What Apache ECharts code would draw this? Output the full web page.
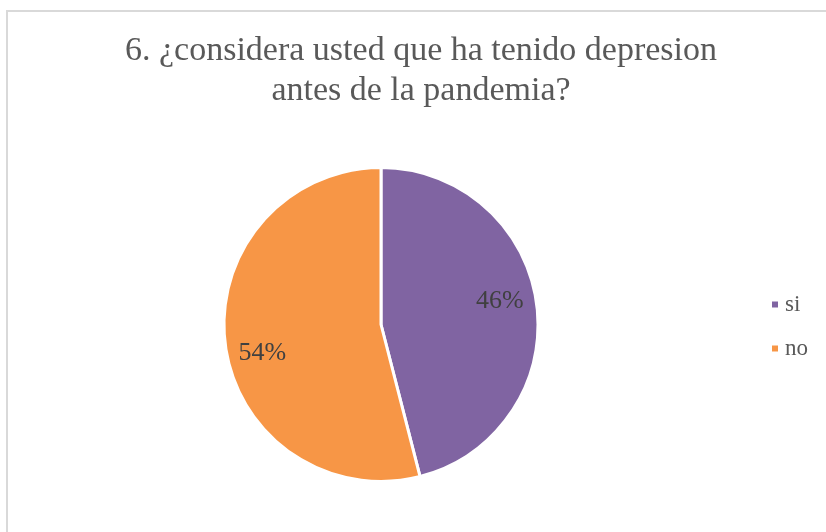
<!DOCTYPE html>
<html>
<head>
<meta charset="utf-8">
<script src="https://cdn.jsdelivr.net/npm/echarts@6/dist/echarts.min.js"></script>
<style>html,body{margin:0;padding:0;background:#fff}#c{width:826px;height:532px}</style>
</head>
<body>
<div id="c"></div>
<script>
const titleText = '6. ¿considera usted que ha tenido depresion\nantes de la pandemia?';
const categories = ['si', 'no'];
const values = [46, 54];
const colors = ['#8064a2', '#f79646'];

const data = categories.map((c, i) => ({ name: c, value: values[i], itemStyle: { color: colors[i] } }));
const font = 'Liberation Serif';

const chart = echarts.init(document.getElementById('c'), null, { renderer: 'canvas' });
chart.setOption({
  backgroundColor: '#fff',
  animation: false,
  title: {
    text: titleText,
    left: 421, top: 31, textAlign: 'center', padding: 0,
    textStyle: { fontFamily: font, fontSize: 34, fontWeight: 'normal', color: '#595959', lineHeight: 40 }
  },
  legend: {
    orient: 'vertical', left: 770, top: 293, padding: 0,
    itemWidth: 8, itemHeight: 8, itemGap: 21, icon: 'rect',
    data: categories,
    textStyle: { fontFamily: font, fontSize: 23, color: '#595959', padding: [0, 0, 0, 1] }
  },
  graphic: [
    { type: 'line', shape: { x1: 7, y1: 11, x2: 826, y2: 11 }, style: { stroke: '#d9d9d9', lineWidth: 2 } },
    { type: 'line', shape: { x1: 7, y1: 10, x2: 7, y2: 532 }, style: { stroke: '#d9d9d9', lineWidth: 2 } }
  ],
  series: [
    {
      type: 'pie', center: [381, 324.5], radius: [0, 157], startAngle: 90, clockwise: true,
      data: data,
      itemStyle: { borderColor: '#fff', borderWidth: 3 },
      label: { show: false }, labelLine: { show: false },
      emphasis: { disabled: true }
    },
    {
      type: 'pie', center: [381, 327], radius: [80, 157], startAngle: 95, clockwise: true,
      data: data.map(d => ({ name: d.name, value: d.value })),
      silent: true,
      itemStyle: { color: 'rgba(0,0,0,0)' },
      label: { show: true, position: 'inside', formatter: '{d}%', fontFamily: font, fontSize: 26, color: '#404040' },
      labelLine: { show: false },
      emphasis: { disabled: true }
    }
  ]
});
</script>
</body>
</html>
